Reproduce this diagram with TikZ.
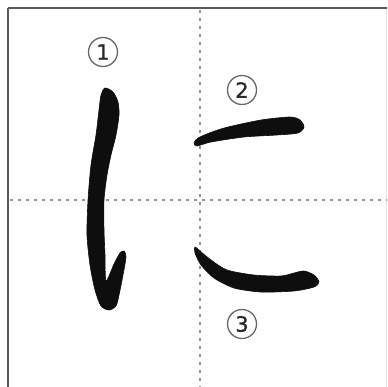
\documentclass[tikz,border=0pt]{standalone}
\usepackage{fontspec}
\newfontfamily\numfont[FakeBold=1.2]{DejaVu Sans}
\usepackage{tikz}
\usetikzlibrary{positioning}
\definecolor{frameC} {HTML}{5A5A5A}
\definecolor{edgeC}  {HTML}{E4E4E4}
\definecolor{guideC} {HTML}{929292}
\definecolor{inkC}   {HTML}{0E0E0E}
\definecolor{numC}   {HTML}{666666}
\definecolor{digitC} {HTML}{2A2A2A}
\tikzset{
  frameLine/.style={frameC,line width=2pt},
  guideLine/.style={guideC,line width=2.8pt,dash pattern=on 2.8pt off 5.2pt},
  brush/.style={fill=inkC,draw=inkC,line width=0.6pt,line join=round},
  numCirc/.style={circle,draw=numC,line width=1.3pt,minimum size=29pt,
                  inner sep=0pt,font=\numfont\fontsize{21}{21}\selectfont,
                  text=digitC},
}
\begin{document}
\begin{tikzpicture}[x=1pt,y=-1pt]
\useasboundingbox (0,0) rectangle (387,387);
\fill[white] (0,0) rectangle (387,387);

% frame and guide cross
\draw[edgeC,line width=0.8pt] (386,8) -- (386,387);
\draw[guideLine] (200,10) -- (200,387);
\draw[guideLine] (10,200) -- (387,200);
\draw[frameLine] (8,8) -- (387,8);
\draw[frameLine] (8,8) -- (8,387);

% stroke 1: vertical with hook
\draw[brush] plot[smooth cycle,tension=0.45] coordinates {
  (105,88) (113,92) (118,102) (119,115) (116,135) (111,155) (107,175)
  (104,200) (104,230) (105,255) (106,281) (114,264) (120,253) (124,251)
  (126,257) (123,275) (119,295) (116,306) (109,310) (101,306) (95,290)
  (90,265) (87,235) (88,200) (91,165) (96,135) (99,110) (101,95)};

% stroke 2: upper bar
\draw[brush] plot[smooth cycle,tension=0.45] coordinates {
  (194,143) (198,138) (212,132) (228,127) (261,120) (290,117) (300,120)
  (304,127) (298,133) (277,135) (244,137) (211,142) (197,146)};

% stroke 3: lower bar
\draw[brush] plot[smooth cycle,tension=0.45] coordinates {
  (195,247) (200,251) (211,260) (227,270) (254,275) (281,276) (294,273)
  (304,271) (314,275) (319,282) (314,287) (294,291) (261,292) (234,288)
  (214,278) (201,265) (195,253)};

% stroke order numbers
\node[numCirc] (n1) at (103,52)  {1};
\node[numCirc] (n2) at (242,90)  {2};
\node[numCirc] (n3) at (242,324) {3};

\end{tikzpicture}
\end{document}
